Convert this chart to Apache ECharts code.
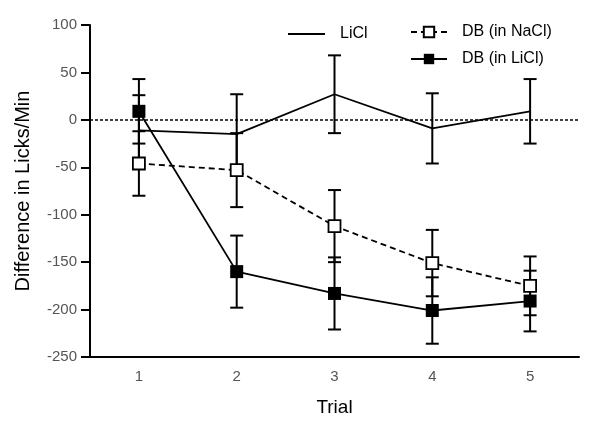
<!DOCTYPE html>
<html>
<head>
<meta charset="utf-8">
<script src="https://cdn.jsdelivr.net/npm/echarts@6/dist/echarts.min.js"></script>
<style>
html,body{margin:0;padding:0;background:#fff;}
#chart{width:600px;height:426px;}
</style>
</head>
<body>
<div id="chart"></div>
<script>
// ---- Data ----
const trials = ['1', '2', '3', '4', '5'];
const liclMean = [-11, -15, 27, -9, 9];
const liclErr = [37, 42, 41, 37, 34];
const dbNaclMean = [-46, -53, -112, -151, -175];
const dbNaclErr = [34, 39, 38, 35, 31];
const dbLiclMean = [9, -160, -183, -201, -191];
const dbLiclErr = [34, 38, 38, 35, 32];
const yTicks = { min: -250, max: 100, interval: 50 };

const FONT = 'Liberation Sans, Arial, sans-serif';

function errData(mean, err) {
  return mean.map((m, i) => [i, m - err[i], m + err[i]]);
}

function errSeries(name, mean, err) {
  return {
    type: 'custom',
    name: name + ' err',
    z: 1,
    silent: true,
    encode: { x: 0, y: [1, 2] },
    data: errData(mean, err),
    renderItem: function (params, api) {
      const x = api.value(0);
      const lo = api.coord([x, api.value(1)]);
      const hi = api.coord([x, api.value(2)]);
      const cw = 6.5;
      const style = { stroke: '#000', lineWidth: 2, fill: null };
      return {
        type: 'group',
        children: [
          { type: 'line', shape: { x1: lo[0], y1: lo[1], x2: hi[0], y2: hi[1] }, style: style },
          { type: 'line', shape: { x1: lo[0] - cw, y1: lo[1], x2: lo[0] + cw, y2: lo[1] }, style: style },
          { type: 'line', shape: { x1: hi[0] - cw, y1: hi[1], x2: hi[0] + cw, y2: hi[1] }, style: style }
        ]
      };
    }
  };
}

const chart = echarts.init(document.getElementById('chart'));
chart.setOption({
  animation: false,
  backgroundColor: '#fff',
  textStyle: { fontFamily: FONT },
  grid: { left: 90, right: 21, top: 25, bottom: 69 },
  legend: [
    {
      data: [{ name: 'LiCl', icon: 'rect', itemStyle: { color: '#000' } }],
      left: 283, top: 21,
      itemWidth: 37, itemHeight: 2,
      textStyle: { fontSize: 16, color: '#000', fontFamily: FONT, padding: [0, 0, 0, 10] },
      selectedMode: false
    },
    {
      data: ['DB (in NaCl)', 'DB (in LiCl)'],
      orient: 'vertical',
      left: 405, top: 19,
      itemWidth: 36, itemHeight: 13, itemGap: 11,
      textStyle: { fontSize: 16, color: '#000', fontFamily: FONT, padding: [0, 0, 0, 10] },
      selectedMode: false
    }
  ],
  xAxis: {
    type: 'category',
    data: trials,
    boundaryGap: true,
    name: 'Trial',
    nameLocation: 'middle',
    nameGap: 41,
    nameTextStyle: { fontSize: 19, color: '#000', fontFamily: FONT },
    axisLine: { onZero: false, lineStyle: { color: '#000', width: 2 } },
    axisTick: { alignWithLabel: true, length: 7, lineStyle: { color: '#000', width: 2 } },
    axisLabel: { fontSize: 15, color: '#555', margin: 12, fontFamily: FONT },
    splitLine: { show: false }
  },
  yAxis: {
    type: 'value',
    min: yTicks.min, max: yTicks.max, interval: yTicks.interval,
    name: 'Difference in Licks/Min',
    nameLocation: 'middle',
    nameGap: 57,
    nameTextStyle: { fontSize: 20, color: '#000', fontFamily: FONT },
    axisLine: { show: true, lineStyle: { color: '#000', width: 2 } },
    axisTick: { show: true, length: 9, lineStyle: { color: '#000', width: 2 } },
    axisLabel: { fontSize: 15, color: '#555', margin: 13, fontFamily: FONT },
    splitLine: { show: false }
  },
  series: [
    errSeries('LiCl', liclMean, liclErr),
    errSeries('DB (in NaCl)', dbNaclMean, dbNaclErr),
    errSeries('DB (in LiCl)', dbLiclMean, dbLiclErr),
    {
      type: 'line', name: 'LiCl', z: 3,
      data: liclMean,
      symbol: 'none',
      lineStyle: { color: '#000', width: 1.8, type: 'solid' },
      itemStyle: { color: '#000' },
      markLine: {
        silent: true, symbol: 'none', label: { show: false },
        lineStyle: { color: '#000', width: 1.5, type: [3, 2] },
        data: [{ yAxis: 0 }]
      }
    },
    {
      type: 'line', name: 'DB (in NaCl)', z: 4,
      data: dbNaclMean,
      symbol: 'rect', symbolSize: 12,
      lineStyle: { color: '#000', width: 1.8, type: [6, 4] },
      itemStyle: { color: '#fff', borderColor: '#000', borderWidth: 1.8 }
    },
    {
      type: 'line', name: 'DB (in LiCl)', z: 5,
      data: dbLiclMean,
      symbol: 'rect', symbolSize: 13,
      lineStyle: { color: '#000', width: 1.8, type: 'solid' },
      itemStyle: { color: '#000', borderColor: '#000', borderWidth: 0 }
    }
  ]
});
</script>
</body>
</html>
